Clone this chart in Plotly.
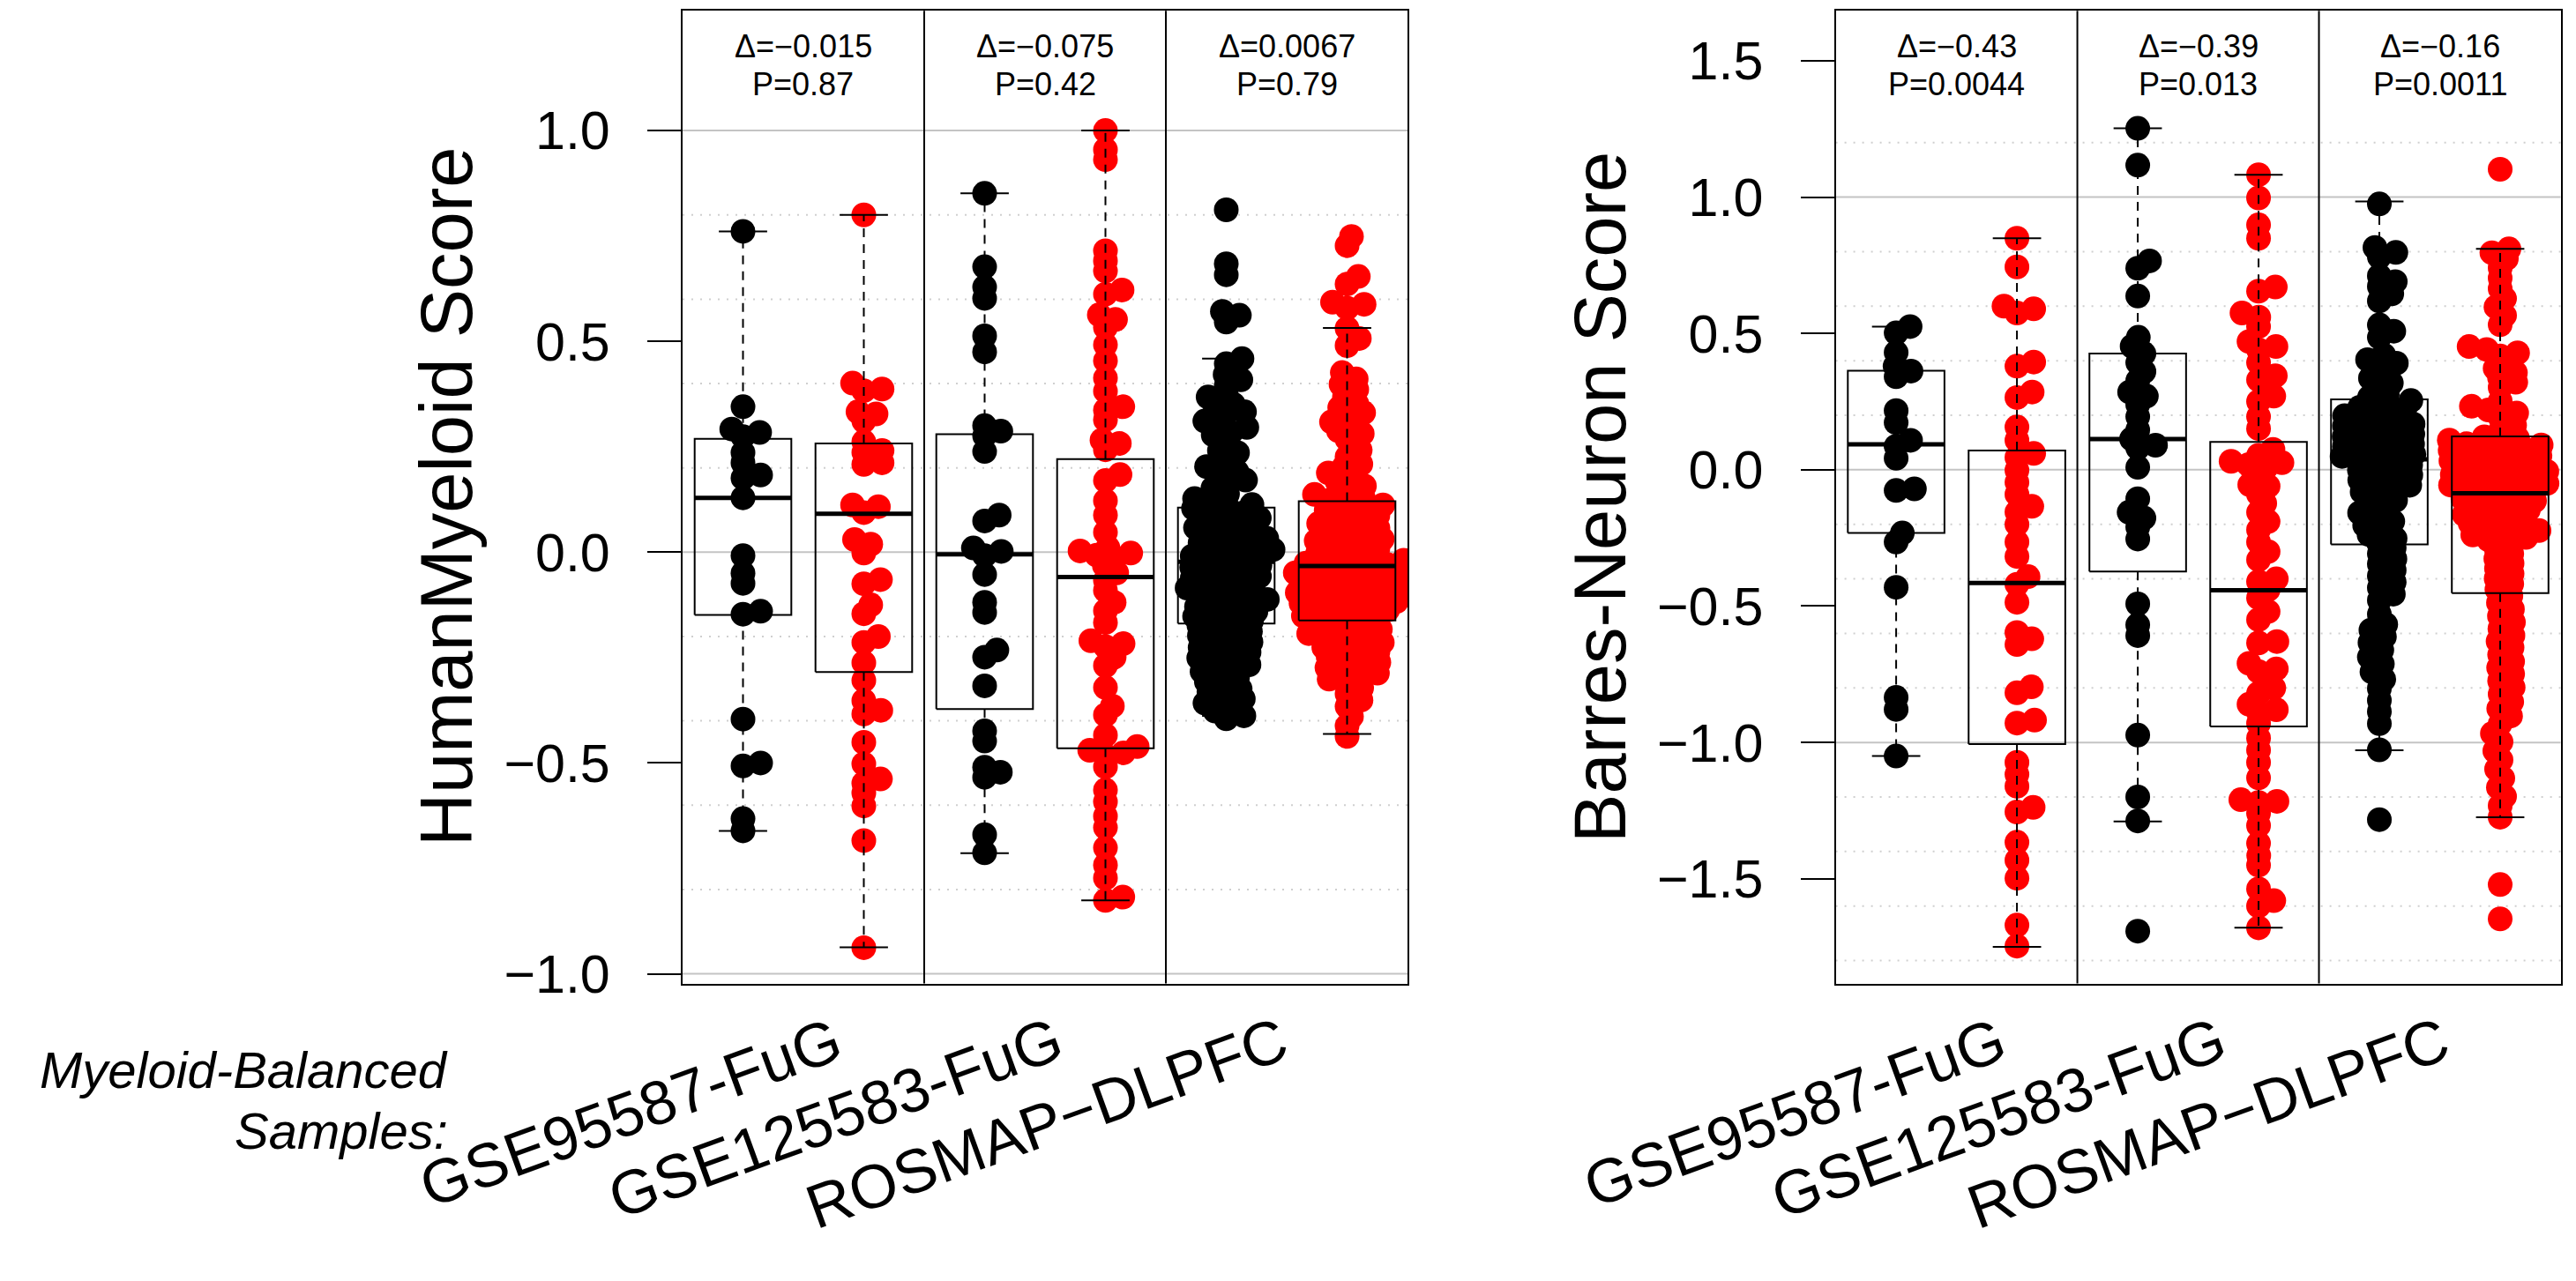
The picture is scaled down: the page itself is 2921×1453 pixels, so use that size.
import math
import plotly.graph_objects as go

# ---------------- data ----------------
datasets = ["GSE95587-FuG", "GSE125583-FuG", "ROSMAP\u2212DLPFC"]
left_title = "HumanMyeloid Score"
right_title = "Barres-Neuron Score"

left_delta = ["\u0394=\u22120.015", "\u0394=\u22120.075", "\u0394=0.0067"]
left_p = ["P=0.87", "P=0.42", "P=0.79"]
right_delta = ["\u0394=\u22120.43", "\u0394=\u22120.39", "\u0394=\u22120.16"]
right_p = ["P=0.0044", "P=0.013", "P=0.0011"]

# Left panel: HumanMyeloid score (control = black, AD = red)
L_g1_ctrl = [0.761, 0.345, 0.292, 0.284, 0.274, 0.236, 0.212, 0.183, 0.176, 0.129, -0.008, -0.05,
             -0.074, -0.14, -0.147, -0.396, -0.5, -0.507, -0.632, -0.661]
L_g1_ad = [0.8, 0.401, 0.387, 0.383, 0.333, 0.328, 0.311, 0.262, 0.241, 0.237, 0.212, 0.208, 0.112,
           0.108, 0.094, 0.03, 0.019, -0.002, -0.065, -0.075, -0.125, -0.146, -0.2, -0.214, -0.262,
           -0.304, -0.352, -0.375, -0.384, -0.451, -0.502, -0.538, -0.548, -0.571, -0.602, -0.684, -0.938]
L_g2_ctrl = [0.851, 0.677, 0.629, 0.602, 0.513, 0.475, 0.3, 0.287, 0.276, 0.239, 0.088, 0.074, 0.01,
             0.002, -0.008, -0.053, -0.119, -0.143, -0.232, -0.249, -0.317, -0.424, -0.448, -0.51,
             -0.522, -0.534, -0.67, -0.713]
L_g2_ad = [1.0, 0.955, 0.931, 0.715, 0.691, 0.667, 0.622, 0.612, 0.563, 0.552, 0.533, 0.492, 0.454,
           0.413, 0.382, 0.345, 0.337, 0.314, 0.266, 0.258, 0.243, 0.184, 0.17, 0.122, 0.088, 0.047,
           0.011, 0.003, -0.002, -0.007, -0.013, -0.032, -0.049, -0.067, -0.091, -0.119, -0.139,
           -0.167, -0.21, -0.217, -0.224, -0.249, -0.269, -0.321, -0.365, -0.386, -0.434, -0.461,
           -0.47, -0.476, -0.482, -0.509, -0.564, -0.592, -0.626, -0.653, -0.701, -0.742, -0.773,
           -0.818, -0.826]
L_g3_ctrl = [0.812, 0.684, 0.658, 0.571, 0.562, 0.546, 0.459, 0.447, 0.421, 0.409, 0.395, 0.372,
             0.368, 0.351, 0.347, 0.333, 0.329, 0.311, 0.304, 0.296, 0.284, 0.278, 0.262, 0.241,
             0.236, 0.218, 0.203, 0.191, 0.186, 0.171, 0.166, 0.152, 0.138,
             0.127, 0.124, 0.113, 0.109, 0.104, 0.097, 0.093, 0.084, 0.081, 0.072, 0.069, 0.061,
             0.058, 0.049, 0.046, 0.038, 0.033, 0.027, 0.022, 0.019, 0.011, 0.006, 0.003, -0.004,
             -0.009, -0.012, -0.02, -0.026, -0.031, -0.036, -0.041, -0.047, -0.05, -0.057, -0.061,
             -0.066, -0.073, -0.077, -0.085, -0.088, -0.096, -0.099, -0.107, -0.112, -0.116, -0.124,
             -0.129, -0.133, -0.141, -0.146, -0.152, -0.155, -0.163, -0.169, -0.174, -0.179, -0.188,
             -0.192, -0.198, -0.205, -0.213, -0.217, -0.226, -0.231, -0.237, -0.246, -0.251, -0.258,
             -0.267, -0.272, -0.283, -0.29, -0.296,
             -0.307, -0.312, -0.324, -0.331, -0.339, -0.348, -0.358, -0.364, -0.377, -0.388, -0.395]
L_g3_ad = [0.749, 0.727, 0.654, 0.636, 0.593, 0.588, 0.579, 0.531, 0.507, 0.49, 0.426, 0.411, 0.398,
           0.386, 0.369, 0.352, 0.343, 0.331, 0.322, 0.309, 0.301, 0.288, 0.281, 0.268, 0.242, 0.226,
           0.209, 0.201, 0.188, 0.181, 0.168, 0.157, 0.149, 0.137,
           0.129, 0.123, 0.118, 0.112, 0.104, 0.099, 0.093, 0.087, 0.079, 0.076, 0.068, 0.062, 0.057,
           0.049, 0.044, 0.038, 0.031, 0.027, 0.021, 0.014, 0.009, 0.002, -0.003, -0.008, -0.014,
           -0.019,
           -0.022, -0.026, -0.029, -0.034, -0.037, -0.041, -0.046, -0.049, -0.053, -0.058, -0.061,
           -0.064, -0.069, -0.073, -0.077, -0.08, -0.084, -0.089, -0.092, -0.096, -0.101, -0.104,
           -0.108, -0.113, -0.117, -0.121, -0.124, -0.129, -0.133, -0.137, -0.142, -0.146, -0.151,
           -0.155, -0.159, -0.165,
           -0.172, -0.176, -0.183, -0.187, -0.193, -0.198, -0.203, -0.208, -0.214, -0.219, -0.226,
           -0.231, -0.236, -0.242, -0.248,
           -0.256, -0.261, -0.268, -0.274, -0.279, -0.287, -0.293, -0.301, -0.309,
           -0.322, -0.336, -0.351, -0.366, -0.39, -0.412, -0.437]

# Right panel: Barres-Neuron score
R_g1_ctrl = [0.525, 0.502, 0.43, 0.38, 0.362, 0.341, 0.217, 0.173, 0.108, 0.086, 0.042, -0.07, -0.076,
             -0.232, -0.265, -0.431, -0.835, -0.879, -1.05]
R_g1_ad = [0.849, 0.744, 0.6, 0.59, 0.575, 0.395, 0.38, 0.285, 0.265, 0.157, 0.108, 0.06, 0.045,
           -0.002, -0.046, -0.09, -0.134, -0.155, -0.2, -0.265, -0.318, -0.392, -0.42, -0.486, -0.597,
           -0.62, -0.641, -0.796, -0.818, -0.918, -0.929, -1.073, -1.117, -1.161, -1.238, -1.255,
           -1.366, -1.432, -1.498, -1.67, -1.747]
R_g2_ctrl = [1.252, 1.117, 0.766, 0.739, 0.637, 0.486, 0.453, 0.426, 0.393, 0.36, 0.327, 0.285, 0.27,
             0.239, 0.195, 0.146, 0.113, 0.09, 0.08, 0.009, -0.106, -0.156, -0.177, -0.21, -0.254,
             -0.492, -0.569, -0.608, -0.973, -1.2, -1.288, -1.692]
R_g2_ad = [1.082, 0.997, 0.898, 0.849, 0.67, 0.655, 0.575, 0.56, 0.525, 0.47, 0.452, 0.44, 0.393,
           0.345, 0.33, 0.27, 0.25, 0.195, 0.151, 0.075, 0.053, 0.031, 0.026, 0.019, 0.008, -0.024,
           -0.055, -0.06, -0.09, -0.123, -0.156, -0.19, -0.22, -0.265, -0.3, -0.33, -0.4, -0.41,
           -0.44, -0.47, -0.52, -0.55, -0.63, -0.635, -0.71, -0.73, -0.74, -0.8, -0.82, -0.86, -0.88,
           -0.89, -0.93, -0.984, -1.028, -1.073, -1.13, -1.21, -1.216, -1.22, -1.26, -1.305, -1.37,
           -1.415, -1.45, -1.537, -1.58, -1.6, -1.68]
R_g3_ctrl = [0.975, 0.815, 0.797, 0.781, 0.711, 0.69, 0.672, 0.645, 0.619, 0.531, 0.508,
             0.486, 0.421, 0.404, 0.391, 0.377, 0.336, 0.318, 0.302, 0.276, 0.266, 0.254, 0.241,
             0.229, 0.221, 0.209,
             0.198, 0.19, 0.183, 0.175, 0.168, 0.161, 0.152, 0.146, 0.139, 0.131, 0.122, 0.117, 0.108,
             0.101, 0.094, 0.086, 0.079, 0.072, 0.063, 0.057, 0.049, 0.042,
             0.034, 0.026, 0.017, 0.008, -0.001, -0.011, -0.019, -0.029, -0.038, -0.048, -0.057,
             -0.069, -0.081, -0.094,
             -0.112, -0.128, -0.143, -0.158, -0.172, -0.189, -0.204, -0.221, -0.238, -0.252, -0.268,
             -0.287, -0.308, -0.327, -0.346, -0.368, -0.389, -0.412, -0.433, -0.456, -0.479, -0.53,
             -0.567, -0.588, -0.612, -0.634, -0.661, -0.687, -0.712, -0.741, -0.768,
             -0.802, -0.846, -0.887, -0.931, -1.027, -1.283]
R_g3_ad = [1.102, 0.81, 0.796, 0.774, 0.741, 0.703, 0.664, 0.628, 0.597, 0.566, 0.532, 0.452, 0.441,
           0.429, 0.417, 0.372, 0.356, 0.338, 0.321, 0.302, 0.252, 0.233, 0.219, 0.208, 0.192, 0.163,
           0.141,
           0.121, 0.116, 0.109, 0.103, 0.096, 0.091, 0.084, 0.078, 0.071, 0.066, 0.059, 0.052, 0.047,
           0.039, 0.033, 0.027, 0.019, 0.013, 0.006, 0.001, -0.006, -0.012, -0.018, -0.024, -0.031,
           -0.037, -0.043, -0.05, -0.056, -0.063, -0.069, -0.076, -0.082,
           -0.091, -0.099, -0.107, -0.114, -0.122, -0.131, -0.138, -0.147, -0.156,
           -0.164, -0.172, -0.181, -0.189, -0.197, -0.206, -0.214, -0.223, -0.231, -0.239, -0.248,
           -0.257, -0.266,
           -0.289, -0.308, -0.326, -0.343, -0.362, -0.381, -0.399, -0.418, -0.439,
           -0.462, -0.488, -0.511, -0.536, -0.559, -0.583, -0.608, -0.629, -0.652, -0.678, -0.703,
           -0.726, -0.749, -0.774, -0.798, -0.823, -0.851, -0.876, -0.903, -0.932,
           -0.967, -0.998, -1.031, -1.064, -1.098, -1.131, -1.165, -1.198, -1.232,
           -1.274, -1.521, -1.647]

# Box statistics: (lower whisker, Q1, median, Q3, upper whisker)
L_box = [(-0.661, -0.149, 0.129, 0.269, 0.761), (-0.937, -0.284, 0.091, 0.258, 0.80),
         (-0.714, -0.372, -0.005, 0.28, 0.851), (-0.826, -0.465, -0.059, 0.221, 1.0),
         (-0.388, -0.169, -0.023, 0.106, 0.459), (-0.431, -0.162, -0.033, 0.121, 0.532)]
R_box = [(-1.05, -0.232, 0.093, 0.363, 0.525), (-1.75, -1.006, -0.415, 0.071, 0.849),
         (-1.29, -0.373, 0.113, 0.426, 1.252), (-1.679, -0.941, -0.442, 0.102, 1.082),
         (-1.029, -0.274, 0.038, 0.258, 0.984), (-1.274, -0.452, -0.086, 0.122, 0.81)]

L_ticks = [-1.0, -0.5, 0.0, 0.5, 1.0]
R_ticks = [-1.5, -1.0, -0.5, 0.0, 0.5, 1.0, 1.5]
L_solid_grid = [-1.0, 0.0, 1.0]
L_dotted_grid = [-0.8, -0.6, -0.4, -0.2, 0.2, 0.4, 0.6, 0.8]
R_solid_grid = [-1.0, 0.0, 1.0]
R_dotted_grid = [-1.8, -1.6, -1.4, -1.2, -0.8, -0.6, -0.4, -0.2, 0.2, 0.4, 0.6, 0.8, 1.2]

# ---------------- layout constants ----------------
W, H = 2921, 1453
FONT = "Liberation Sans, Arial, Helvetica, sans-serif"
L_px = (774.0, 1596.0)
R_px = (2081.6, 2903.5)
Y_px = (12.5, 1133.5)
L_range = [-1.023, 1.284]
R_range = [-1.884, 1.683]
X_range = [0.5, 6.5]
COLORS = ["#000000", "#FF0000"]
MARKER = 28
XS, YS = 21.0, 11.0  # swarm collision size in px


def swarm(vals, px_per_y):
    order = sorted(range(len(vals)), key=lambda i: vals[i])
    placed = []
    offs = [0.0] * len(vals)
    for i in order:
        y = vals[i] * px_per_y
        near = [(px, py) for (px, py) in placed if abs(py - y) < YS]
        cands = [0.0]
        for px, py in near:
            dx = XS * math.sqrt(max(0.0, 1 - ((py - y) / YS) ** 2))
            cands += [px + dx, px - dx]
        cands.sort(key=abs)
        chosen = 0.0
        for c in cands:
            if all(((c - px) / XS) ** 2 + ((py - y) / YS) ** 2 >= 1 - 1e-9 for px, py in near):
                chosen = c
                break
        placed.append((chosen, y))
        offs[i] = chosen
    return offs


fig = go.Figure()

panels = [
    dict(xa="x", ya="y", px=L_px, rng=L_range,
         groups=[L_g1_ctrl, L_g1_ad, L_g2_ctrl, L_g2_ad, L_g3_ctrl, L_g3_ad], box=L_box),
    dict(xa="x2", ya="y2", px=R_px, rng=R_range,
         groups=[R_g1_ctrl, R_g1_ad, R_g2_ctrl, R_g2_ad, R_g3_ctrl, R_g3_ad], box=R_box),
]

for pn in panels:
    px_per_x = (pn["px"][1] - pn["px"][0]) / (X_range[1] - X_range[0])
    px_per_y = (Y_px[1] - Y_px[0]) / (pn["rng"][1] - pn["rng"][0])
    for gi, vals in enumerate(pn["groups"]):
        pos = gi + 1
        offs = swarm(vals, px_per_y)
        fig.add_trace(go.Scatter(
            x=[pos + o / px_per_x for o in offs], y=vals, mode="markers",
            marker=dict(color=COLORS[gi % 2], size=MARKER, line=dict(width=0)),
            xaxis=pn["xa"], yaxis=pn["ya"], hoverinfo="skip", showlegend=False))
    rx, ry, mx, my, wx, wy, sx, sy = [], [], [], [], [], [], [], []
    for gi, (lo, q1, med, q3, hi) in enumerate(pn["box"]):
        p = gi + 1
        rx += [p - 0.4, p + 0.4, p + 0.4, p - 0.4, p - 0.4, None]
        ry += [q1, q1, q3, q3, q1, None]
        mx += [p - 0.4, p + 0.4, None]
        my += [med, med, None]
        wx += [p, p, None, p, p, None]
        wy += [q3, hi, None, q1, lo, None]
        sx += [p - 0.2, p + 0.2, None, p - 0.2, p + 0.2, None]
        sy += [hi, hi, None, lo, lo, None]
    common = dict(mode="lines", xaxis=pn["xa"], yaxis=pn["ya"], hoverinfo="skip", showlegend=False)
    fig.add_trace(go.Scatter(x=wx, y=wy, line=dict(color="black", width=2, dash="10px,8px"), **common))
    fig.add_trace(go.Scatter(x=sx, y=sy, line=dict(color="black", width=2), **common))
    fig.add_trace(go.Scatter(x=rx, y=ry, line=dict(color="black", width=2), **common))
    fig.add_trace(go.Scatter(x=mx, y=my, line=dict(color="black", width=5), **common))

ydom = [1 - Y_px[1] / H, 1 - Y_px[0] / H]
axis_common = dict(showgrid=False, zeroline=False, showline=True, mirror=True,
                   linecolor="black", linewidth=2)
fig.update_layout(
    width=W, height=H, margin=dict(l=0, r=0, t=0, b=0),
    paper_bgcolor="white", plot_bgcolor="white", showlegend=False,
    font=dict(family=FONT, color="black"),
    xaxis=dict(domain=[L_px[0] / W, L_px[1] / W], range=X_range, showticklabels=False, ticks="",
               anchor="y", **axis_common),
    yaxis=dict(domain=ydom, range=L_range, tickvals=L_ticks, tickformat=".1f", ticks="outside",
               ticklen=38, tickwidth=2, tickcolor="black", ticklabelstandoff=30,
               tickfont=dict(size=61, family=FONT, color="black"), anchor="x", **axis_common),
    xaxis2=dict(domain=[R_px[0] / W, R_px[1] / W], range=X_range, showticklabels=False, ticks="",
                anchor="y2", **axis_common),
    yaxis2=dict(domain=ydom, range=R_range, tickvals=R_ticks, tickformat=".1f", ticks="outside",
                ticklen=38, tickwidth=2, tickcolor="black", ticklabelstandoff=30,
                tickfont=dict(size=61, family=FONT, color="black"), anchor="x2", **axis_common),
)

shapes = []
for xa, ya, solid, dotted in [("x", "y", L_solid_grid, L_dotted_grid),
                              ("x2", "y2", R_solid_grid, R_dotted_grid)]:
    for v in solid:
        shapes.append(dict(type="line", xref=xa + " domain", yref=ya, x0=0, x1=1, y0=v, y1=v,
                           line=dict(color="#c4c4c4", width=2), layer="below"))
    for v in dotted:
        shapes.append(dict(type="line", xref=xa + " domain", yref=ya, x0=0, x1=1, y0=v, y1=v,
                           line=dict(color="#cfcfcf", width=2, dash="2px,8px"), layer="below"))
    for xv in (2.5, 4.5):
        shapes.append(dict(type="line", xref=xa, yref=ya + " domain", x0=xv, x1=xv, y0=0, y1=1,
                           line=dict(color="black", width=2), layer="above"))
fig.update_layout(shapes=shapes)

ann = []
for xa, deltas, ps in [("x", left_delta, left_p), ("x2", right_delta, right_p)]:
    for k in range(3):
        cx = 1.5 + 2 * k
        ann.append(dict(x=cx, xref=xa, y=1 - 53 / H, yref="paper", text=deltas[k], showarrow=False,
                        font=dict(size=36, family=FONT, color="black"), xanchor="center", yanchor="middle"))
        ann.append(dict(x=cx, xref=xa, y=1 - 97 / H, yref="paper", text=ps[k], showarrow=False,
                        font=dict(size=36, family=FONT, color="black"), xanchor="center", yanchor="middle"))

ann.append(dict(x=507 / W, y=1 - 573 / H, xref="paper", yref="paper", text=left_title, textangle=-90,
                showarrow=False, font=dict(size=83, family=FONT, color="black"),
                xanchor="center", yanchor="middle"))
ann.append(dict(x=1815 / W, y=1 - 573 / H, xref="paper", yref="paper", text=right_title, textangle=-90,
                showarrow=False, font=dict(size=83, family=FONT, color="black"),
                xanchor="center", yanchor="middle"))
ann.append(dict(x=510 / W, y=1 - 1233 / H, xref="paper", yref="paper", text="<i>Myeloid-Balanced</i>",
                showarrow=False, font=dict(size=58, family=FONT, color="black"),
                xanchor="right", yanchor="middle"))
ann.append(dict(x=510 / W, y=1 - 1303 / H, xref="paper", yref="paper", text="<i>Samples:</i>",
                showarrow=False, font=dict(size=58, family=FONT, color="black"),
                xanchor="right", yanchor="middle"))

label_pos_left = [1.91, 3.74, 5.6]
label_pos_right = [2.0, 3.82, 5.67]
for xa, poss in [("x", label_pos_left), ("x2", label_pos_right)]:
    for k in range(3):
        ann.append(dict(x=poss[k], xref=xa, y=1 - 1155 / H, yref="paper", text=datasets[k],
                        textangle=-20, showarrow=False,
                        font=dict(size=70, family=FONT, color="black"),
                        xanchor="right", yanchor="top"))
fig.update_layout(annotations=ann)

fig.write_html("out.html")
